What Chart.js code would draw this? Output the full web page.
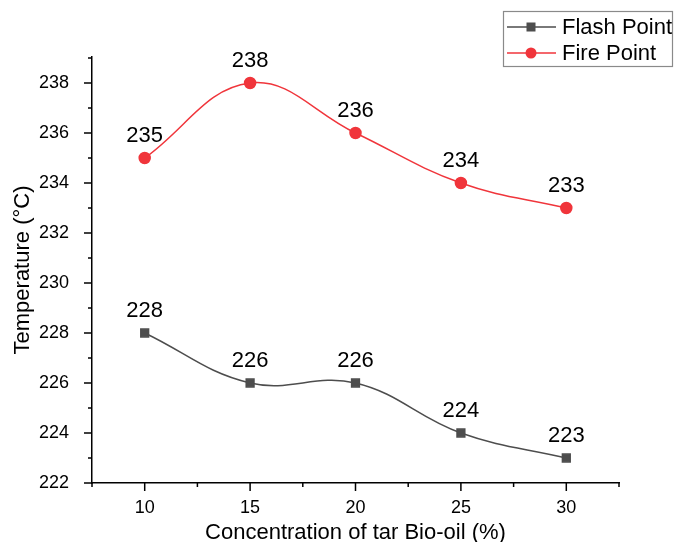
<!DOCTYPE html>
<html><head><meta charset="utf-8">
<script src="https://cdn.jsdelivr.net/npm/chart.js@4/dist/chart.umd.min.js"></script>
<style>html,body{margin:0;padding:0;background:#fff}#wrap{width:674px;height:542px}</style>
</head><body><div id="wrap"><canvas id="c" width="674" height="542"></canvas></div>
<script>
const concentrations = [10, 15, 20, 25, 30];
const flashPoint = [228, 226, 226, 224, 223];
const firePoint = [235, 238, 236, 234, 233];
const seriesNames = ['Flash Point', 'Fire Point'];
const xTitle = 'Concentration of tar Bio-oil (%)';
const yTitle = 'Temperature (\u00B0C)';

const FONT = '"Liberation Sans", Arial, sans-serif';
const GRAY = '#4d4d4d';
const RED = '#f0353b';

const toXY = vals => concentrations.map((c, i) => ({x: c, y: vals[i]}));

const tickPlugin = {
  id: 'ticksAndLabels',
  afterDraw(chart) {
    const ctx = chart.ctx;
    const xs = chart.scales.x, ys = chart.scales.y;
    const area = chart.chartArea;
    ctx.save();
    ctx.strokeStyle = '#000';
    ctx.lineWidth = 1.5;
    xs.ticks.forEach(t => {
      const px = xs.getPixelForValue(t.value);
      const major = Math.abs(t.value % 5) < 1e-6;
      ctx.beginPath();
      ctx.moveTo(px, area.bottom);
      ctx.lineTo(px, area.bottom + (major ? 8 : 4));
      ctx.stroke();
    });
    ys.ticks.forEach(t => {
      const py = ys.getPixelForValue(t.value);
      const major = Math.abs(t.value % 2) < 1e-6;
      ctx.beginPath();
      ctx.moveTo(area.left, py);
      ctx.lineTo(area.left - (major ? 8 : 4), py);
      ctx.stroke();
    });
    // data labels
    ctx.fillStyle = '#000';
    ctx.font = '22px ' + FONT;
    ctx.textAlign = 'center';
    ctx.textBaseline = 'middle';
    chart.data.datasets.forEach((ds, di) => {
      const meta = chart.getDatasetMeta(di);
      meta.data.forEach((el, i) => {
        ctx.fillText(String(ds.data[i].y), el.x, el.y - 22);
      });
    });
    // legend
    const bx = 503, by = 11, bw = 169, bh = 55;
    ctx.strokeStyle = '#8a8a8a';
    ctx.lineWidth = 1.2;
    ctx.strokeRect(bx + 0.5, by + 0.5, bw, bh);
    const rows = [27, 53];
    chart.data.datasets.forEach((ds, di) => {
      const y = rows[di];
      ctx.strokeStyle = ds.borderColor;
      ctx.lineWidth = 1.5;
      ctx.beginPath(); ctx.moveTo(507, y); ctx.lineTo(556, y); ctx.stroke();
      ctx.fillStyle = ds.pointBackgroundColor;
      if (ds.pointStyle === 'rect') {
        ctx.fillRect(531 - 4.5, y - 4.5, 9, 9);
      } else {
        ctx.beginPath(); ctx.arc(531, y, 5.5, 0, Math.PI * 2); ctx.fill();
      }
      ctx.fillStyle = '#000';
      ctx.font = '22px ' + FONT;
      ctx.textAlign = 'left';
      ctx.fillText(ds.label, 562, y + 1);
    });
    ctx.restore();
  }
};

new Chart(document.getElementById('c'), {
  type: 'line',
  data: {
    datasets: [
      {label: seriesNames[0], data: toXY(flashPoint), borderColor: GRAY, backgroundColor: GRAY,
       pointBackgroundColor: GRAY, pointBorderColor: GRAY, pointStyle: 'rect', pointRadius: 5.5,
       borderWidth: 1.5, tension: 0.4},
      {label: seriesNames[1], data: toXY(firePoint), borderColor: RED, backgroundColor: RED,
       pointBackgroundColor: RED, pointBorderColor: RED, pointStyle: 'circle', pointRadius: 5.5,
       borderWidth: 1.5, tension: 0.4}
    ]
  },
  options: {
    responsive: false,
    animation: false,
    layout: {padding: {top: 57, right: 55, left: 0, bottom: 0}},
    plugins: {legend: {display: false}, tooltip: {enabled: false}},
    scales: {
      x: {
        type: 'linear', min: 7.5, max: 32.5,
        afterBuildTicks: s => { const t = []; for (let v = 7.5; v <= 32.5 + 1e-9; v += 2.5) t.push({value: v}); s.ticks = t; },
        ticks: {
          autoSkip: false, padding: 6, color: '#000', font: {family: FONT, size: 18},
          callback: v => (Math.abs(v % 5) < 1e-6 ? String(v) : '')
        },
        grid: {display: false},
        border: {display: true, color: '#000', width: 1.5},
        title: {display: true, text: xTitle, color: '#000', font: {family: FONT, size: 22}, padding: {top: 0, bottom: -4}},
        afterFit: s => { s.height = 59; }
      },
      y: {
        type: 'linear', min: 222, max: 239.04,
        afterBuildTicks: s => { const t = []; for (let v = 222; v <= 239; v += 1) t.push({value: v}); s.ticks = t; },
        ticks: {
          autoSkip: false, padding: 15, color: '#000', font: {family: FONT, size: 18},
          callback: v => (Math.abs(v % 2) < 1e-6 ? String(v) : '')
        },
        grid: {display: false},
        border: {display: true, color: '#000', width: 1.5},
        title: {display: true, text: yTitle, color: '#000', font: {family: FONT, size: 22}, padding: {top: 10, bottom: 0}},
        afterFit: s => { s.width = 92; }
      }
    }
  },
  plugins: [tickPlugin]
});
</script></body></html>
